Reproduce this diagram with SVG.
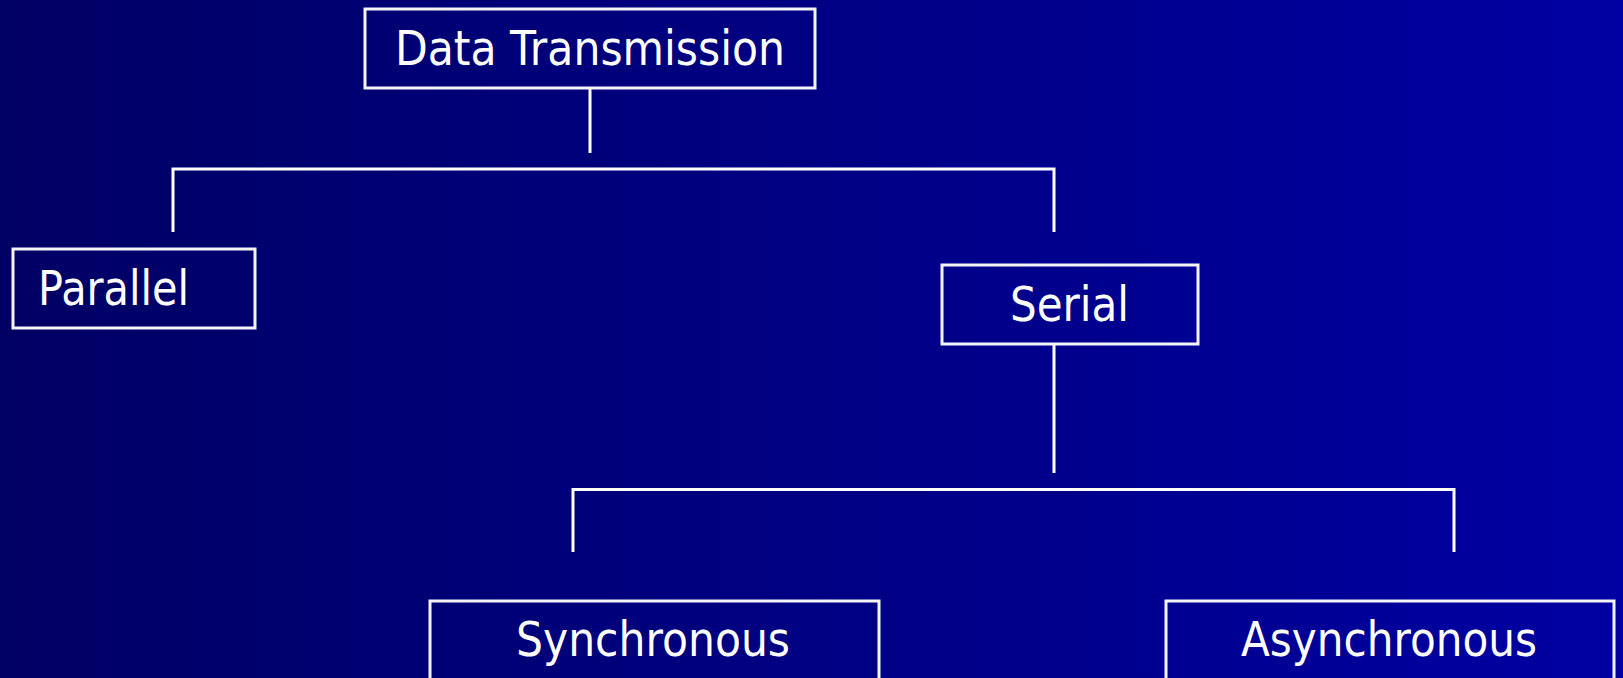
<svg xmlns="http://www.w3.org/2000/svg" width="1623" height="678" viewBox="0 0 1623 678">
  <defs>
    <linearGradient id="bg" x1="0" y1="0" x2="1" y2="0">
      <stop offset="0" stop-color="#000064"/>
      <stop offset="1" stop-color="#0000A2"/>
    </linearGradient>
  </defs>
  <style>
    .box { fill: none; stroke: #f4f4fa; stroke-width: 3; }
    .link { fill: none; stroke: #ffffff; stroke-width: 3; }
    .label { fill: #ffffff; font-family: "DejaVu Sans", "Liberation Sans", sans-serif; font-size: 48px; }
  </style>
  <rect x="0" y="0" width="1623" height="678" fill="url(#bg)"/>

  <g id="connectors">
    <!-- Data Transmission to its two children -->
    <path class="link" d="M590 88 V153"/>
    <path class="link" d="M173 232 V169 H1054 V232"/>
    <!-- Serial to its two children -->
    <path class="link" d="M1054 344 V473"/>
    <path class="link" d="M573 552 V489.5 H1454 V552"/>
  </g>

  <g id="node-data-transmission">
    <rect class="box" x="365" y="9" width="450" height="79"/>
    <text class="label" x="395" y="65" textLength="390" lengthAdjust="spacingAndGlyphs">Data Transmission</text>
  </g>

  <g id="node-parallel">
    <rect class="box" x="13" y="249" width="242" height="79"/>
    <text class="label" x="38" y="305" textLength="151" lengthAdjust="spacingAndGlyphs">Parallel</text>
  </g>

  <g id="node-serial">
    <rect class="box" x="942" y="265" width="256" height="79"/>
    <text class="label" x="1010" y="321" textLength="119" lengthAdjust="spacingAndGlyphs">Serial</text>
  </g>

  <g id="node-synchronous">
    <rect class="box" x="430" y="601" width="449" height="90"/>
    <text class="label" x="516" y="656" textLength="274" lengthAdjust="spacingAndGlyphs">Synchronous</text>
  </g>

  <g id="node-asynchronous">
    <rect class="box" x="1166" y="601" width="448" height="90"/>
    <text class="label" x="1241" y="656" textLength="296" lengthAdjust="spacingAndGlyphs">Asynchronous</text>
  </g>
</svg>
